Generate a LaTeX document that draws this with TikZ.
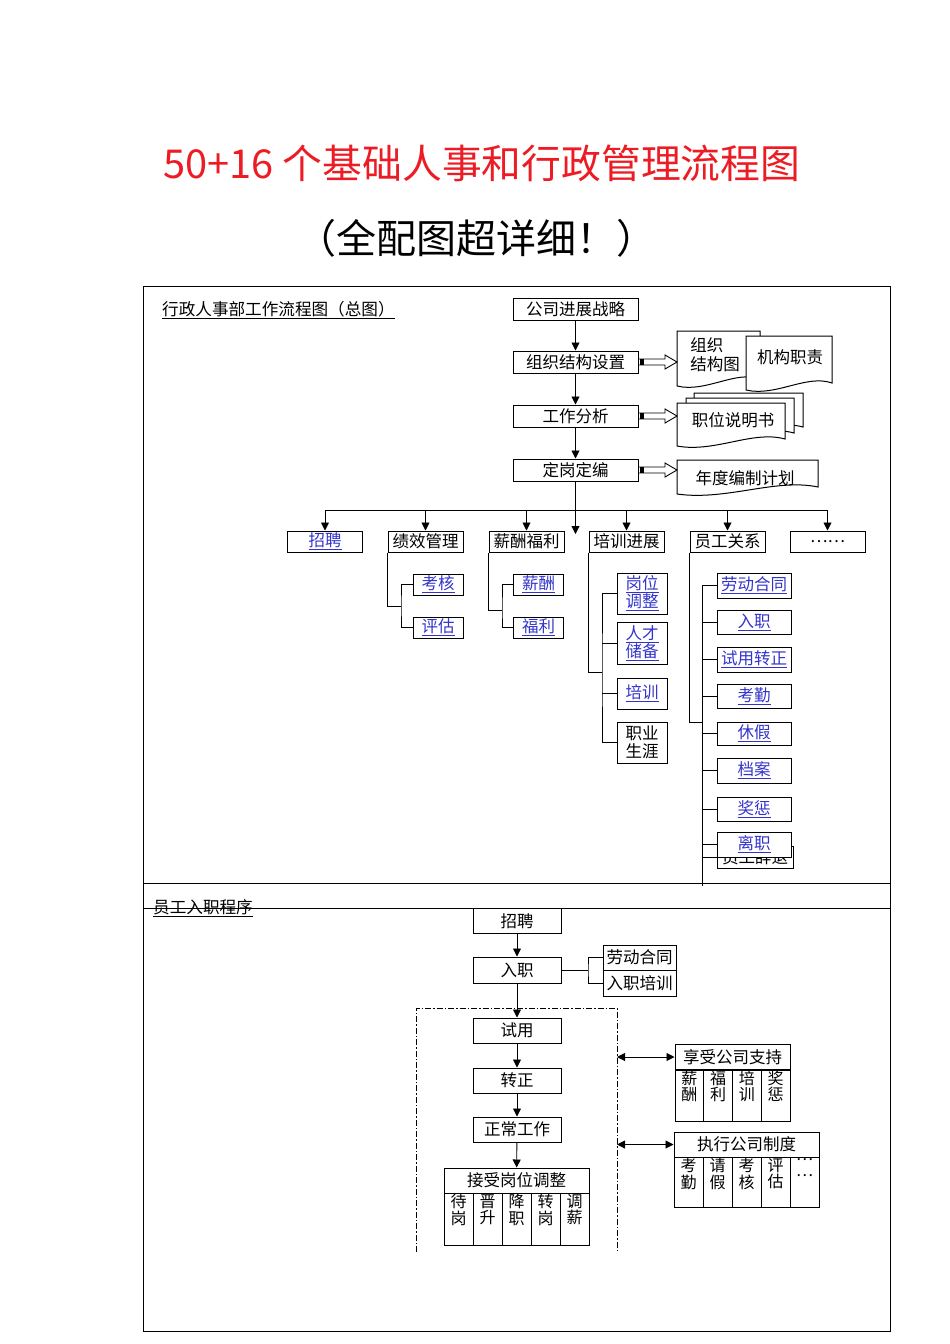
\documentclass[tikz,border=0pt]{standalone}
\usepackage{fontspec}
\setmainfont{Noto Sans CJK SC}
\usetikzlibrary{calc,arrows.meta,positioning}
\definecolor{linkblue}{RGB}{51,51,204}
\definecolor{titlered}{RGB}{237,28,36}

\newcommand{\lk}[1]{\underline{#1}}
% document shape: x1, y top, x2, y bottom (left)
\newcommand{\docshape}[4]{%
  \filldraw[fill=white, line width=1pt] (#1,#2) -- (#3,#2) -- (#3,{#4-7})
    .. controls ({#3-0.3*(#3-#1)},{#4-16}) and ({#1+0.35*(#3-#1)},{#4+7}) .. (#1,#4) -- cycle;}
% hollow block arrow from node to coordinate
\newcommand{\blockarrow}[2]{%
  \draw[line width=0.9pt, fill=white] ($(#1)+(0,-3)$) -| ($(#2)+(-12,-7)$) -- (#2)
    -- ($(#2)+(-12,7)$) |- ($(#1)+(0,3)$) -- cycle;
  \fill ($(#1)+(1,-3)$) rectangle ($(#1)+(5,3)$);}

\tikzset{
  box/.style={draw, line width=1pt, inner sep=0pt, minimum width=75pt, minimum height=21pt,
    font=\fontsize{16.5}{18}\selectfont, align=center},
  lnk/.style={box, text=linkblue},
  arr/.style={line width=0.9pt, -{Triangle[length=8pt,width=8pt]}},
  dblarr/.style={line width=0.9pt, {Triangle[length=8pt,width=8pt]}-{Triangle[length=8pt,width=8pt]}},
  conn/.style={line width=0.9pt},
  col/.style={draw, line width=1pt, inner sep=0pt, minimum width=29pt, minimum height=51pt, anchor=north},
  coltext/.style={anchor=north, inner sep=1pt, align=center, font=\fontsize{16}{16.5}\selectfont},
}

\begin{document}
\begin{tikzpicture}[x=1pt,y=-1pt]
  \useasboundingbox (0,0) rectangle (950,1344);

  % titles
  \node[text=titlered, font=\fontsize{39.8}{42}\selectfont] (title) at (482,163) {50+16 个基础人事和行政管理流程图};
  \node[font=\fontsize{40}{42}\selectfont] (subtitle) at (476,238) {（全配图超详细！）};

  % frames
  \draw[conn] (143,286) rectangle (890,1331);
  \draw[conn] (143,883) -- (890,883);
  \draw[conn] (143,908) -- (890,908);

  \node[anchor=west, inner sep=0pt, font=\fontsize{16.6}{18}\selectfont] (head1) at (162,310) {\lk{行政人事部工作流程图（总图）}};

  % main column
  \node[box, minimum width=125pt, minimum height=22pt] (strat) at (575.5,309) {公司进展战略};
  \node[box, minimum width=125pt, minimum height=22pt] (org) at (575.5,362) {组织结构设置};
  \node[box, minimum width=125pt, minimum height=22pt] (ana) at (575.5,416) {工作分析};
  \node[box, minimum width=125pt, minimum height=22pt] (post) at (575.5,470) {定岗定编};
  \foreach \a/\b in {strat/org, org/ana, ana/post}
    \draw[arr] (\a) -- (\b);

  % documents
  \docshape{677}{331}{760}{386}
  \node[align=left, inner sep=0pt, font=\fontsize{16.5}{19}\selectfont] (orgchart) at (715,355) {组织\\结构图};
  \docshape{746}{336}{832}{390}
  \node[inner sep=0pt, font=\fontsize{16.5}{18}\selectfont] (duty) at (790,357) {机构职责};
  \docshape{694}{393}{803}{434}
  \docshape{686}{398}{794}{440}
  \docshape{677}{403}{785}{446}
  \node[inner sep=0pt, font=\fontsize{16.5}{18}\selectfont] (jobdesc) at (733,420) {职位说明书};
  \docshape{677}{460}{818}{494}
  \node[inner sep=0pt, font=\fontsize{16.5}{18}\selectfont] (plan) at (745,478) {年度编制计划};

  \coordinate (orgdoc) at (677,362);
  \coordinate (jobdoc) at (677,416);
  \coordinate (plandoc) at (677,470);
  \blockarrow{org.east}{orgdoc}
  \blockarrow{ana.east}{jobdoc}
  \blockarrow{post.east}{plandoc}

  % second row
  \node[lnk] (rec) at (325,541.5) {\lk{招聘}};
  \node[box] (perf) at (425.5,541.5) {绩效管理};
  \node[box] (pay) at (526.5,541.5) {薪酬福利};
  \node[box] (train) at (626.5,541.5) {培训进展};
  \node[box] (rel) at (727.5,541.5) {员工关系};
  \node[box] (more) at (827.5,541.5) {……};

  \coordinate (bus) at (575.5,510);
  \coordinate (mid) at (575.5,534);
  \draw[arr] (post) -- (mid);
  \foreach \n in {rec,perf,pay,train,rel,more}
    \draw[arr] (bus) -| (\n);

  % 绩效管理
  \node[lnk, minimum width=50pt] (kh) at (438,584.5) {\lk{考核}};
  \node[lnk, minimum width=50pt] (pg) at (438,627.5) {\lk{评估}};
  \coordinate (pj) at (401,606);
  \draw[conn] (perf.south west) |- (pj);
  \draw[conn] (kh.west) -| (pj) |- (pg.west);

  % 薪酬福利
  \node[lnk, minimum width=50pt] (xc) at (538.5,584.5) {\lk{薪酬}};
  \node[lnk, minimum width=50pt] (fl) at (538.5,627.5) {\lk{福利}};
  \coordinate (xj) at (502,610);
  \draw[conn] (pay.south west) |- (xj);
  \draw[conn] (xc.west) -| (xj) |- (fl.west);

  % 培训进展
  \node[lnk, minimum width=50pt, minimum height=41pt] (gw) at (642,593.5) {\lk{岗位}\\\lk{调整}};
  \node[lnk, minimum width=50pt, minimum height=42pt] (rc) at (642,643) {\lk{人才}\\\lk{储备}};
  \node[lnk, minimum width=50pt, minimum height=31pt] (px) at (642,693.5) {\lk{培训}};
  \node[box, minimum width=50pt, minimum height=41pt] (zy) at (642,742.5) {职业\\生涯};
  \coordinate (tj) at (602,672);
  \draw[conn] (train.south west) |- (tj);
  \draw[conn] (gw.west) -| (tj) |- (zy.west);
  \draw[conn] (rc.west) -- (rc.west -| tj);
  \draw[conn] (px.west) -- (px.west -| tj);

  % 员工关系
  \node[box, minimum width=76pt, minimum height=22pt] (ct) at (755,857) {员工辞退};
  \node[lnk, minimum width=74pt, minimum height=25pt] (ht) at (754,585.5) {\lk{劳动合同}};
  \node[lnk, minimum width=74pt, minimum height=24pt] (rzl) at (754,622) {\lk{入职}};
  \node[lnk, minimum width=74pt, minimum height=25pt] (syz) at (754,659.5) {\lk{试用转正}};
  \node[lnk, minimum width=74pt, minimum height=24pt] (kq) at (754,696) {\lk{考勤}};
  \node[lnk, minimum width=74pt, minimum height=23pt] (xj2) at (754,733.5) {\lk{休假}};
  \node[lnk, minimum width=74pt, minimum height=25pt] (da) at (754,770.5) {\lk{档案}};
  \node[lnk, minimum width=74pt, minimum height=24pt] (jc) at (754,809) {\lk{奖惩}};
  \node[lnk, minimum width=74pt, minimum height=25pt, fill=white] (lz) at (754,844.5) {\lk{离职}};
  \coordinate (rj) at (702,722);
  \coordinate (rend) at (702,886);
  \draw[conn] (rel.south west) |- (rj);
  \draw[conn] (ht.west) -| (rend);
  \foreach \n in {rzl,syz,kq,xj2,da,jc,lz,ct}
    \draw[conn] (\n.west) -- (\n.west -| rend);

  % 员工入职程序
  \node[anchor=west, inner sep=0pt, font=\fontsize{16.6}{18}\selectfont] (head2) at (153,908) {\lk{员工入职程序}};

  \node[box, minimum width=88pt, minimum height=25pt] (zp) at (517,921) {招聘};
  \node[box, minimum width=88pt, minimum height=26pt] (rz) at (517,970) {入职};
  \node[box, minimum width=88pt, minimum height=25pt] (sy) at (517,1030.5) {试用};
  \node[box, minimum width=88pt, minimum height=25pt] (zz) at (517,1080.5) {转正};
  \node[box, minimum width=88pt, minimum height=25pt] (zc) at (517,1129.5) {正常工作};
  \node[box, minimum width=145pt, minimum height=25pt] (jsg) at (516.5,1180.5) {接受岗位调整};
  \foreach \a/\b in {zp/rz, rz/sy, sy/zz, zz/zc, zc/jsg}
    \draw[arr] (\a) -- (\b);

  \node[box, minimum width=73pt, minimum height=25pt] (ldht) at (639.5,957.5) {劳动合同};
  \node[box, minimum width=73pt, minimum height=26pt] (rzpx) at (639.5,983) {入职培训};
  \coordinate (rj2) at (588,970);
  \draw[conn] (rz.east) -- (rj2);
  \draw[conn] (ldht.west) -| (rj2) |- (rzpx.west);

  \foreach \t [count=\i] in {{待\\岗},{晋\\升},{降\\职},{转\\岗},{调\\薪}} {
    \node[col, minimum height=52pt] (jc\i) at ({444+29*(\i-0.5)},1193) {};
    \node[coltext] (jct\i) at (jc\i.north) {\t};
  }

  % 试用期 frame
  \draw[line width=0.9pt, dash pattern=on 6pt off 2pt on 1.5pt off 2pt] (416,1252) |- (617,1008) -- (617,1252);
  \coordinate (fr1) at (617,1057);
  \coordinate (fr2) at (617,1144.5);

  \node[box, minimum width=115pt, minimum height=25pt] (xs) at (732.5,1057) {享受公司支持};
  \foreach \t [count=\i] in {{薪\\酬},{福\\利},{培\\训},{奖\\惩}} {
    \node[col, minimum width=28.75pt] (xs\i) at ({675+28.75*(\i-0.5)},1069.5) {};
    \node[coltext] (xst\i) at (xs\i.north) {\t};
  }
  \node[box, minimum width=145pt, minimum height=25pt] (zx) at (746.5,1144.5) {执行公司制度};
  \foreach \t [count=\i] in {{考\\勤},{请\\假},{考\\核},{评\\估},{…\\…}} {
    \node[col, minimum height=50pt] (zx\i) at ({674+29*(\i-0.5)},1157) {};
    \node[coltext] (zxt\i) at (zx\i.north) {\t};
  }
  \draw[dblarr] (fr1) -- (xs);
  \draw[dblarr] (fr2) -- (zx);
\end{tikzpicture}
\end{document}
